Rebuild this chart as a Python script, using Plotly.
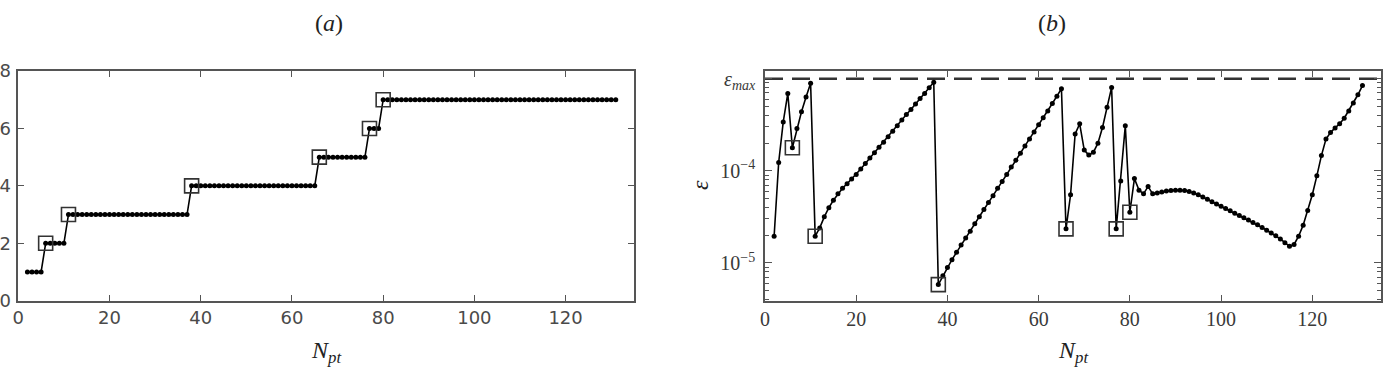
import plotly.graph_objects as go

# ---------------- data ----------------
n_pt = list(range(2, 132))

# panel (a): step values
n_level = [1]*4 + [2]*5 + [3]*27 + [4]*28 + [5]*11 + [6]*3 + [7]*52

# panel (b): log10(epsilon), N_pt = 2..131
eps_log10 = [
    -4.71, -3.91, -3.47, -3.16, -3.75, -3.54, -3.36, -3.20, -3.05,            # 2-10
    -4.71, -4.62, -4.50, -4.40, -4.32, -4.25, -4.19, -4.14, -4.09, -4.04,     # 11-20
    -3.98, -3.92, -3.86, -3.805, -3.745, -3.69, -3.63, -3.57, -3.51, -3.45,   # 21-30
    -3.39, -3.335, -3.275, -3.215, -3.16, -3.10, -3.04,                       # 31-37
    -5.235, -5.14, -5.05, -4.965, -4.885, -4.805, -4.73, -4.655, -4.575, -4.50,  # 38-47
    -4.42, -4.345, -4.27, -4.19, -4.115, -4.04, -3.96, -3.885, -3.81, -3.73,  # 48-57
    -3.655, -3.58, -3.50, -3.425, -3.35, -3.27, -3.19, -3.11,                 # 58-65
    -4.63, -4.26, -3.60, -3.49, -3.775, -3.83, -3.80, -3.70, -3.53, -3.31,    # 66-75
    -3.095, -4.63, -4.11, -3.51, -4.45, -4.085, -4.21, -4.25, -4.17, -4.25,   # 76-85
    -4.24, -4.23, -4.22, -4.215, -4.21, -4.21, -4.215, -4.225, -4.24, -4.26,  # 86-95
    -4.285, -4.31, -4.335, -4.36, -4.385, -4.41, -4.435, -4.46, -4.485, -4.51,  # 96-105
    -4.535, -4.56, -4.585, -4.615, -4.645, -4.675, -4.705, -4.74, -4.78, -4.82,  # 106-115
    -4.80, -4.71, -4.59, -4.43, -4.26, -4.055, -3.835, -3.655, -3.585, -3.535,   # 116-125
    -3.49, -3.43, -3.35, -3.265, -3.175, -3.075,                              # 126-131
]
eps = [10 ** v for v in eps_log10]

n_marked = [6, 11, 38, 66, 77, 80]
eps_max = 1e-3

x_ticks = [0, 20, 40, 60, 80, 100, 120]
a_yticks = [0, 2, 4, 6, 8]
b_yticks = [1e-5, 1e-4, 1e-3]
b_yticktext = ["10<sup>−5</sup>", "10<sup>−4</sup>", "<i>ε<sub>max</sub></i>"]

# ---------------- figure ----------------
W, H = 1389, 371
def px(x): return x / W
def py(y): return 1 - y / H

fig = go.Figure()

mk_a = [n_level[n_pt.index(n)] for n in n_marked]
mk_b = [eps[n_pt.index(n)] for n in n_marked]

fig.add_trace(go.Scatter(x=n_pt, y=n_level, mode="lines+markers",
                         line=dict(color="black", width=1.6),
                         marker=dict(color="black", size=5),
                         xaxis="x", yaxis="y", showlegend=False, cliponaxis=False))
fig.add_trace(go.Scatter(x=n_marked, y=mk_a, mode="markers",
                         marker=dict(symbol="square-open", size=14,
                                     color="#333", line=dict(width=1.6)),
                         xaxis="x", yaxis="y", showlegend=False, cliponaxis=False))

fig.add_trace(go.Scatter(x=[0, 135], y=[eps_max, eps_max], mode="lines",
                         line=dict(color="#333", width=2.5, dash="18px,9px"),
                         xaxis="x2", yaxis="y2", showlegend=False))
fig.add_trace(go.Scatter(x=n_pt, y=eps, mode="lines+markers",
                         line=dict(color="black", width=1.6),
                         marker=dict(color="black", size=5),
                         xaxis="x2", yaxis="y2", showlegend=False, cliponaxis=False))
fig.add_trace(go.Scatter(x=n_marked, y=mk_b, mode="markers",
                         marker=dict(symbol="square-open", size=14,
                                     color="#333", line=dict(width=1.6)),
                         xaxis="x2", yaxis="y2", showlegend=False, cliponaxis=False))

ydom = [py(300.7), py(71)]
frame = dict(showline=True, linecolor="#555", linewidth=1.5, mirror="allticks",
             ticks="inside", tickcolor="#555", tickwidth=1.3, showgrid=False,
             zeroline=False, automargin=False)

sans = dict(family="DejaVu Sans", size=18, color="#4a4a4a")
serif = dict(family="Liberation Serif", size=20, color="#3a3a3a")

minor_vals = []
for d in [1e-6, 1e-5, 1e-4, 1e-3]:
    for k in range(2, 10):
        minor_vals.append(k * d)

fig.update_layout(
    width=W, height=H, margin=dict(l=0, r=0, t=0, b=0, autoexpand=False),
    paper_bgcolor="white", plot_bgcolor="white",
    xaxis=dict(domain=[px(18.3), px(634)], range=[0, 135], tickmode="array",
               tickvals=x_ticks, ticklen=6, tickfont=sans, anchor="y", **frame),
    yaxis=dict(domain=ydom, range=[0, 8], tickmode="array", tickvals=a_yticks,
               ticklen=6, tickfont=sans, anchor="x", ticklabelstandoff=2, **frame),
    xaxis2=dict(domain=[px(765), px(1380.7)], range=[0, 135], tickmode="array",
                tickvals=x_ticks, ticklen=6, tickfont=serif, anchor="y2", **frame),
    yaxis2=dict(domain=ydom, type="log", range=[-5.41, -2.917], tickmode="array",
                tickvals=b_yticks, ticktext=b_yticktext, ticklen=7, tickfont=serif,
                anchor="x2", ticklabelstandoff=4,
                minor=dict(tickmode="array", tickvals=minor_vals, ticks="inside",
                           ticklen=4, tickcolor="#555", tickwidth=1),
                **frame),
)

ann_font = dict(family="Liberation Serif", size=24, color="#222")
fig.add_annotation(text="(<i>a</i>)", x=px(329), y=py(23), xref="paper", yref="paper",
                   showarrow=False, font=ann_font, xanchor="center", yanchor="middle")
fig.add_annotation(text="(<i>b</i>)", x=px(1052), y=py(23), xref="paper", yref="paper",
                   showarrow=False, font=ann_font, xanchor="center", yanchor="middle")
fig.add_annotation(text="<i>N<sub>pt</sub></i>", x=px(326), y=py(352), xref="paper",
                   yref="paper", showarrow=False, font=ann_font,
                   xanchor="center", yanchor="middle")
fig.add_annotation(text="<i>N<sub>pt</sub></i>", x=px(1073), y=py(352), xref="paper",
                   yref="paper", showarrow=False, font=ann_font,
                   xanchor="center", yanchor="middle")
fig.add_annotation(text="<i>ε</i>", x=px(700), y=py(185), xref="paper", yref="paper",
                   showarrow=False, font=ann_font, textangle=-90,
                   xanchor="center", yanchor="middle")

fig.write_html("out.html")
